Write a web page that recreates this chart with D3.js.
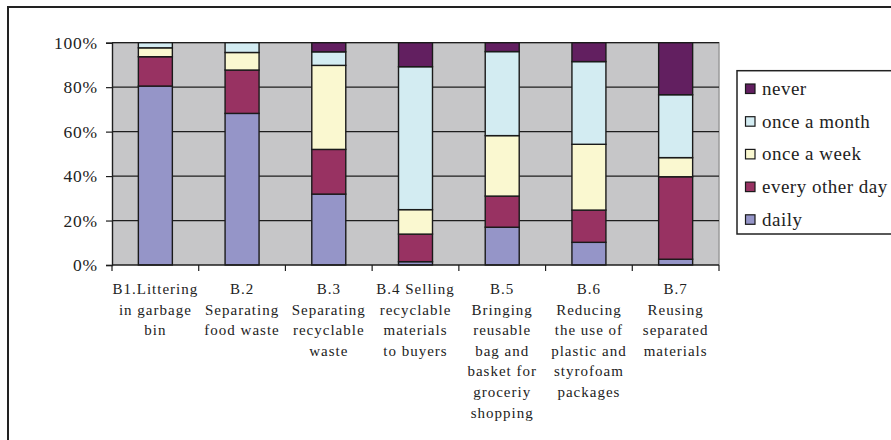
<!DOCTYPE html>
<html>
<head>
<meta charset="utf-8">
<script src="https://cdn.jsdelivr.net/npm/d3@7"></script>
<style>
  html, body { margin: 0; padding: 0; background: #fff; }
  svg { display: block; }
  text { font-family: "Liberation Serif", "Times New Roman", serif; fill: #222; }
</style>
</head>
<body>
<svg id="chart" width="891" height="440"></svg>
<script>
// Survey items (x-axis categories), each label split into its display lines
const categories = ["B1", "B2", "B3", "B4", "B5", "B6", "B7"];
const categoryLines = [
  ["B1.Littering", "in garbage", "bin"],
  ["B.2", "Separating", "food waste"],
  ["B.3", "Separating", "recyclable", "waste"],
  ["B.4 Selling", "recyclable", "materials", "to buyers"],
  ["B.5", "Bringing", "reusable", "bag and", "basket for", "groceriy", "shopping"],
  ["B.6", "Reducing", "the use of", "plastic and", "styrofoam", "packages"],
  ["B.7", "Reusing", "separated", "materials"]
];

// Share of respondents (%) per frequency, one value per item
const daily        = [80.5, 68.2, 31.9,  1.5, 17.0, 10.2,  2.6];
const everyOtherDay = [13.2, 19.5, 20.1, 12.4, 14.0, 14.5, 37.1];
const onceAWeek    = [ 4.0,  7.9, 37.8, 11.0, 27.2, 29.6,  8.6];
const onceAMonth   = [ 2.3,  4.4,  6.1, 64.3, 37.8, 37.2, 28.3];
const never        = [ 0.0,  0.0,  4.1, 10.8,  4.0,  8.5, 23.4];

const seriesNames = ["daily", "every other day", "once a week", "once a month", "never"];
const seriesColors = ["#9595c8", "#983262", "#faf8d0", "#d3ecf2", "#621f60"];
const yTicks = [0, 20, 40, 60, 80, 100];

// Build the table for d3.stack
const seriesValues = [daily, everyOtherDay, onceAWeek, onceAMonth, never];
const table = categories.map((c, i) => {
  const row = { cat: c };
  seriesNames.forEach((s, k) => { row[s] = seriesValues[k][i]; });
  return row;
});
const stacked = d3.stack().keys(seriesNames)
  .offset(d3.stackOffsetExpand)(table);

const svg = d3.select("#chart");

// Outer chart frame (extends past the right and bottom edges)
svg.append("rect")
  .attr("x", 8).attr("y", 7).attr("width", 1000).attr("height", 1000)
  .attr("fill", "#fff").attr("stroke", "#222").attr("stroke-width", 2);

const plot = { left: 112, right: 719, top: 42.7, bottom: 265 };

const x = d3.scaleBand().domain(categories)
  .range([plot.left, plot.right])
  .paddingInner(0.608).paddingOuter(0.304);
const xStep = d3.scaleBand().domain(categories).range([plot.left, plot.right]);
const y = d3.scaleLinear().domain([0, 1]).range([plot.bottom, plot.top]);

// Plot background
svg.append("rect")
  .attr("x", plot.left).attr("y", plot.top)
  .attr("width", plot.right - plot.left).attr("height", plot.bottom - plot.top)
  .attr("fill", "#c6c6c8");

// Right and top border of the plot area
svg.append("path")
  .attr("d", `M${plot.left},${plot.top}H${plot.right}V${plot.bottom}`)
  .attr("fill", "none").attr("stroke", "#9a9a9a").attr("stroke-width", 1.5);

// Horizontal gridlines
svg.append("g").selectAll("line")
  .data(yTicks.filter(t => t > 0))
  .join("line")
  .attr("x1", plot.left).attr("x2", plot.right)
  .attr("y1", d => y(d / 100)).attr("y2", d => y(d / 100))
  .attr("stroke", "#1e1e1e").attr("stroke-width", 1.2);

// Stacked bars
svg.append("g").selectAll("g")
  .data(stacked)
  .join("g")
  .attr("fill", (d, i) => seriesColors[i])
  .selectAll("rect")
  .data(d => d.filter(p => p[1] - p[0] > 0))
  .join("rect")
  .attr("x", d => x(d.data.cat))
  .attr("width", x.bandwidth())
  .attr("y", d => y(d[1]))
  .attr("height", d => y(d[0]) - y(d[1]))
  .attr("stroke", "#1a1a1a").attr("stroke-width", 1.4);

// Y axis
const yAxis = svg.append("g")
  .attr("transform", `translate(${plot.left},0)`)
  .call(d3.axisLeft(y).tickValues(yTicks.map(t => t / 100))
    .tickFormat(d => Math.round(d * 100) + "%").tickSize(6).tickPadding(8));
yAxis.select(".domain").attr("stroke", "#1e1e1e").attr("stroke-width", 1.4);
yAxis.selectAll(".tick line").attr("stroke", "#1e1e1e").attr("stroke-width", 1.2);
yAxis.selectAll(".tick text")
  .style("font-family", '"Liberation Serif", "Times New Roman", serif')
  .style("font-size", "17.5px").style("letter-spacing", "0.8px")
  .attr("fill", "#222");

// X axis with ticks on category boundaries
const boundaries = categories.map(c => xStep(c)).concat([plot.right]);
svg.append("line")
  .attr("x1", plot.left).attr("x2", plot.right)
  .attr("y1", plot.bottom).attr("y2", plot.bottom)
  .attr("stroke", "#1e1e1e").attr("stroke-width", 1.4);
svg.append("g").selectAll("line")
  .data(boundaries)
  .join("line")
  .attr("x1", d => d).attr("x2", d => d)
  .attr("y1", plot.bottom).attr("y2", plot.bottom + 6)
  .attr("stroke", "#1e1e1e").attr("stroke-width", 1.2);

// Category labels
const labelG = svg.append("g");
categories.forEach((c, i) => {
  const cx = xStep(c) + xStep.bandwidth() / 2;
  const t = labelG.append("text")
    .attr("text-anchor", "middle")
    .style("font-size", "15px").style("letter-spacing", "1px");
  categoryLines[i].forEach((line, j) => {
    t.append("tspan").attr("x", cx).attr("y", 294 + j * 20.6).text(line);
  });
});

// Legend (top entry = last stacked series)
const legend = svg.append("g");
legend.append("rect")
  .attr("x", 737).attr("y", 70.7).attr("width", 200).attr("height", 163.3)
  .attr("fill", "#fff").attr("stroke", "#222").attr("stroke-width", 1.5);
const legendOrder = seriesNames.map((s, i) => i).reverse();
legendOrder.forEach((k, r) => {
  const cy = 89 + r * 32.7;
  legend.append("rect")
    .attr("x", 745.5).attr("y", cy - 5).attr("width", 9.5).attr("height", 9.5)
    .attr("fill", seriesColors[k]).attr("stroke", "#1a1a1a").attr("stroke-width", 1.2);
  legend.append("text")
    .attr("x", 762).attr("y", cy + 6)
    .style("font-size", "19px").style("letter-spacing", "0.5px")
    .text(seriesNames[k]);
});
</script>
</body>
</html>
